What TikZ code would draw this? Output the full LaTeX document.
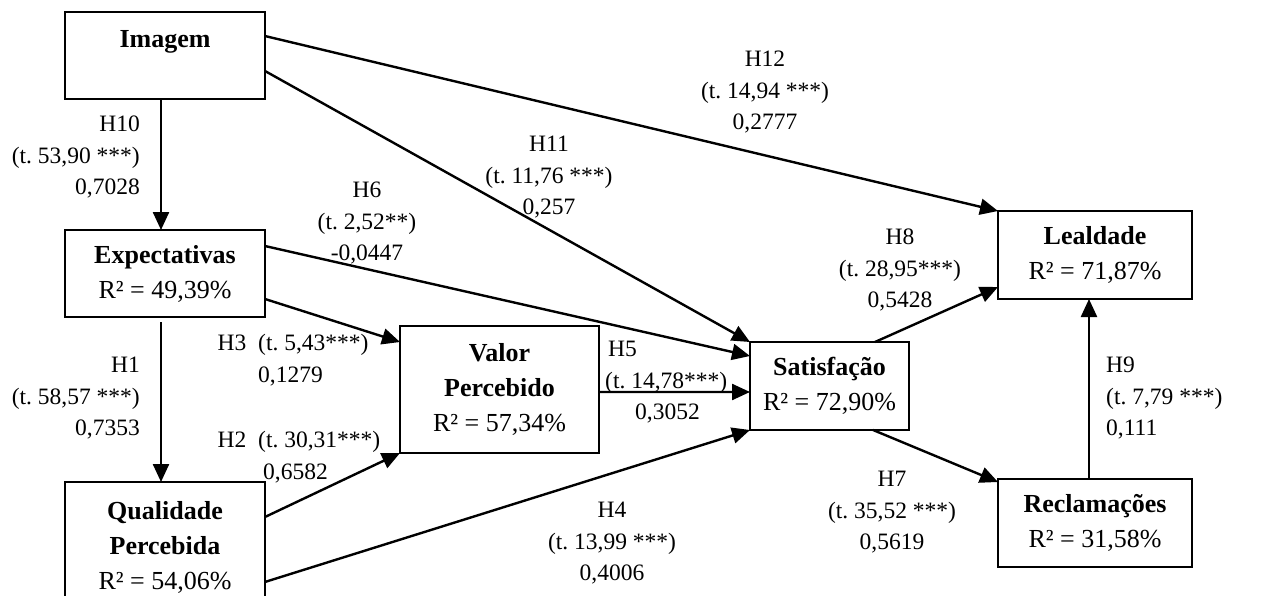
\documentclass[tikz,border=0pt]{standalone}
\usepackage{fontspec}
\setmainfont{Liberation Serif}
\usetikzlibrary{arrows.meta,calc}
\frenchspacing

\tikzset{
  construct/.style={draw, line width=2pt, inner sep=0pt, outer sep=0pt,
    align=center, font=\fontsize{26}{35}\selectfont},
  path label/.style={inner sep=0pt, font=\fontsize{23.5}{31.5}\selectfont},
  arr/.style={line width=2.4pt, -{Triangle[length=18pt,width=16pt]}},
}

\begin{document}
\begin{tikzpicture}[x=1pt,y=-1pt]
\useasboundingbox (0,0) rectangle (1271,595);

% constructs
\node[construct, minimum width=200pt, minimum height=87pt, text depth=33pt] (img) at (165,55.5) {\textbf{Imagem}};
\node[construct, minimum width=200pt, minimum height=87pt] (expe) at (165,273.5) {\textbf{Expectativas}\\R² = 49,39\%};
\node[construct, minimum width=200pt, minimum height=131pt] (qual) at (165,547.5) {\textbf{Qualidade}\\\textbf{Percebida}\\R² = 54,06\%};
\node[construct, minimum width=199pt, minimum height=127pt] (valor) at (499.5,389.5) {\textbf{Valor}\\\textbf{Percebido}\\R² = 57,34\%};
\node[construct, minimum width=159pt, minimum height=88pt] (sat) at (829.5,386) {\textbf{Satisfação}\\R² = 72,90\%};
\node[construct, minimum width=194pt, minimum height=88pt] (leal) at (1095,255) {\textbf{Lealdade}\\R² = 71,87\%};
\node[construct, minimum width=194pt, minimum height=88pt] (recl) at (1095,523) {\textbf{Reclamações}\\R² = 31,58\%};

% paths
\draw[arr] ($(img.south west)!0.48!(img.south east)$) -- ($(expe.north west)!0.48!(expe.north east)$);
\draw[arr] ($(img.north east)!0.276!(img.south east)$) -- (leal.north west);
\draw[arr] ($(img.north east)!0.678!(img.south east)$) -- (sat.north west);
\draw[arr] ($(expe.north east)!0.184!(expe.south east)$) -- ($(sat.north west)!0.159!(sat.south west)$);
\draw[arr] ($(expe.north east)!0.793!(expe.south east)$) -- ($(valor.north west)!0.126!(valor.south west)$);
\draw[arr, shorten <=5pt] ($(expe.south west)!0.48!(expe.south east)$) -- ($(qual.north west)!0.48!(qual.north east)$);
\draw[arr] ($(qual.north east)!0.267!(qual.south east)$) -- (valor.south west);
\draw[arr] ($(qual.north east)!0.763!(qual.south east)$) -- (sat.south west);
\draw[arr] ($(valor.north east)!0.52!(valor.south east)$) -- ($(sat.north west)!0.568!(sat.south west)$);
\draw[arr] ($(sat.north west)!0.786!(sat.north east)$) -- ($(leal.north west)!0.864!(leal.south west)$);
\draw[arr] ($(sat.south west)!0.774!(sat.south east)$) -- ($(recl.north west)!0.034!(recl.south west)$);
\draw[arr] ($(recl.north west)!0.469!(recl.north east)$) -- ($(leal.south west)!0.469!(leal.south east)$);

% path coefficients
\node[path label, align=right, anchor=north east] (l10) at (140,116) {H10\\(t. 53,90 ***)\\0,7028};
\node[path label, align=right, anchor=north east] (l1) at (140,357) {H1\\(t. 58,57 ***)\\0,7353};
\node[path label, align=left, anchor=north west] (l3) at (258,334) {\llap{H3\ \ }(t. 5,43***)\\0,1279};
\node[path label, align=left, anchor=north west] (l2) at (258,431) {\llap{H2\ \ }(t. 30,31***)\\\hspace*{5pt}0,6582};
\node[path label, align=center, anchor=north] (l6) at (367,182) {H6\\(t. 2,52**)\\-0,0447};
\node[path label, align=center, anchor=north] (l11) at (549,136) {H11\\(t. 11,76 ***)\\0,257};
\node[path label, align=center, anchor=north] (l12) at (765,51) {H12\\(t. 14,94 ***)\\0,2777};
\node[path label, align=center, anchor=north] (l8) at (900,229) {H8\\(t. 28,95***)\\0,5428};
\node[path label, align=left, anchor=north west] (l5) at (605,341) {\hspace*{3pt}H5\\(t. 14,78***)\\\hspace*{30pt}0,3052};
\node[path label, align=center, anchor=north] (l4) at (612,502) {H4\\(t. 13,99 ***)\\0,4006};
\node[path label, align=center, anchor=north] (l7) at (892,471) {H7\\(t. 35,52 ***)\\0,5619};
\node[path label, align=left, anchor=north west] (l9) at (1106,357) {H9\\(t. 7,79 ***)\\0,111};
\end{tikzpicture}
\end{document}
